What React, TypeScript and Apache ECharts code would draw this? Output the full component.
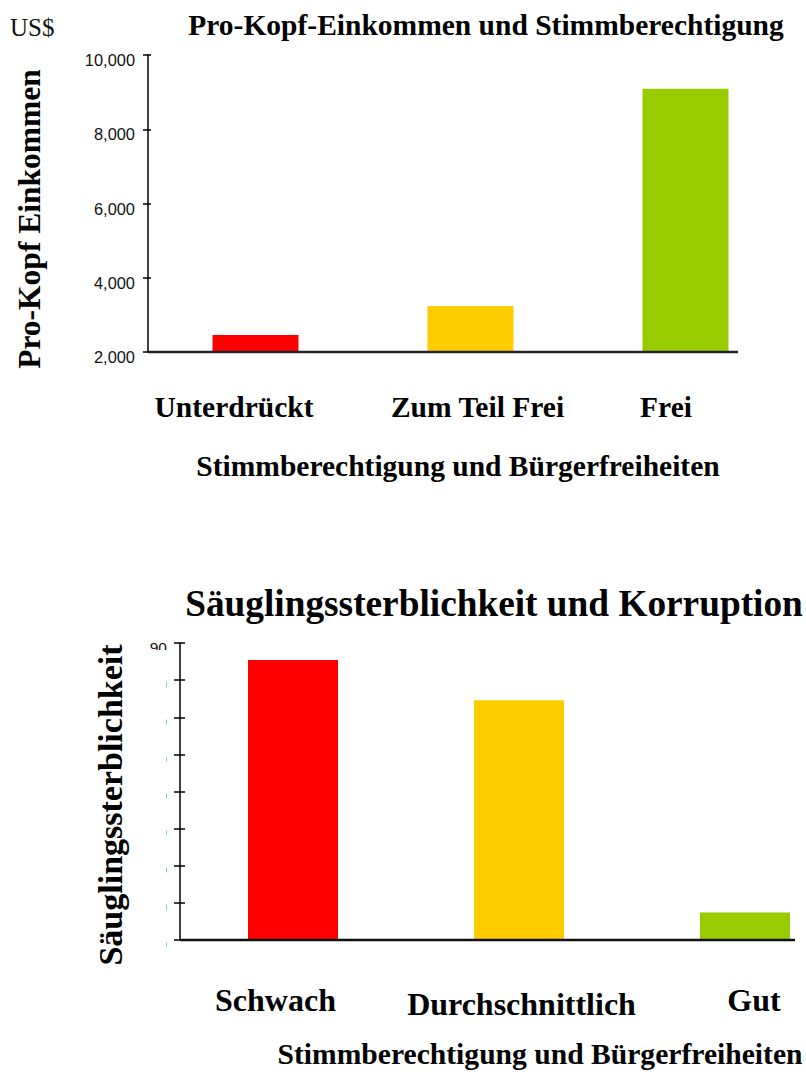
import React, { useEffect, useRef } from "react";
import * as echarts from "echarts";

const incomeCategories = ["Unterdrückt", "Zum Teil Frei", "Frei"];
const incomeValues = [2460, 3240, 9090];
const incomeColors = ["#ff0000", "#ffcc00", "#99cc00"];
const incomeLabelPadding = [
  [0, 43, 0, 0],
  [0, 0, 0, 14],
  [0, 39, 0, 0],
];

const mortalityCategories = ["Schwach", "Durchschnittlich", "Gut"];
const mortalityValues = [85.4, 74.6, 17.4];
const mortalityColors = ["#ff0000", "#ffcc00", "#99cc00"];
const mortalityLabelPadding = [
  [0, 35, 0, 0],
  [4, 0, 0, 5],
  [0, 0, 0, 18],
];

const SERIF = '"Liberation Serif", "Times New Roman", serif';
const SANS = '"Liberation Sans", Arial, sans-serif';

export default function App() {
  const ref = useRef<HTMLDivElement>(null);
  useEffect(() => {
    if (!ref.current) return;
    const chart = echarts.init(ref.current, undefined, { renderer: "svg" });
    const option: any = {
      animation: false,
      backgroundColor: "#ffffff",
      grid: [
        { left: 148, top: 55, width: 645, height: 297 },
        { left: 180, top: 643, width: 678, height: 297 },
      ],
      xAxis: [
        {
          type: "category",
          gridIndex: 0,
          data: incomeCategories.map((c, i) => ({
            value: c,
            textStyle: { padding: incomeLabelPadding[i] },
          })),
          axisLine: { show: false },
          axisTick: { show: false },
          axisLabel: {
            margin: 40,
            fontFamily: SERIF,
            fontWeight: "bold",
            fontSize: 29.5,
            color: "#000",
            interval: 0,
          },
        },
        {
          type: "category",
          gridIndex: 1,
          data: mortalityCategories.map((c, i) => ({
            value: c,
            textStyle: { padding: mortalityLabelPadding[i] },
          })),
          axisLine: { show: false },
          axisTick: { show: false },
          axisLabel: {
            margin: 44,
            fontFamily: SERIF,
            fontWeight: "bold",
            fontSize: 32,
            color: "#000",
            interval: 0,
          },
        },
      ],
      yAxis: [
        {
          type: "value",
          gridIndex: 0,
          min: 2000,
          max: 10000,
          interval: 2000,
          splitLine: { show: false },
          axisLine: { show: true, lineStyle: { color: "#000", width: 1.5 } },
          axisTick: { show: true, inside: false, length: 5, lineStyle: { color: "#000", width: 1.5 } },
          axisLabel: {
            margin: 13,
            fontFamily: SANS,
            fontSize: 16.4,
            color: "#111",
            verticalAlign: "top",
            lineHeight: 10,
            formatter: (v: number) => v.toLocaleString("en-US"),
          },
        },
        {
          type: "value",
          gridIndex: 0,
          min: 2000,
          max: 10000,
          interval: 2000,
          position: "left",
          splitLine: { show: false },
          axisLine: { show: false },
          axisTick: { show: true, inside: true, length: 3, lineStyle: { color: "#000", width: 1.5 } },
          axisLabel: { show: false },
        },
        {
          type: "value",
          gridIndex: 1,
          min: 10,
          max: 90,
          interval: 10,
          splitLine: { show: false },
          axisLine: { show: true, lineStyle: { color: "#000", width: 1.5 } },
          axisTick: { show: true, inside: false, length: 6, lineStyle: { color: "#000", width: 1.5 } },
          axisLabel: {
            margin: 13,
            fontFamily: SANS,
            fontSize: 15.5,
            color: "#111",
            verticalAlign: "top",
            lineHeight: 8,
          },
        },
        {
          type: "value",
          gridIndex: 1,
          min: 10,
          max: 90,
          interval: 10,
          position: "left",
          splitLine: { show: false },
          axisLine: { show: false },
          axisTick: { show: true, inside: true, length: 5, lineStyle: { color: "#000", width: 1.5 } },
          axisLabel: { show: false },
        },
      ],
      series: [
        {
          type: "bar",
          xAxisIndex: 0,
          yAxisIndex: 0,
          barWidth: 86,
          data: incomeValues.map((v, i) => ({ value: v, itemStyle: { color: incomeColors[i] } })),
        },
        {
          type: "bar",
          xAxisIndex: 1,
          yAxisIndex: 2,
          barWidth: 90,
          data: mortalityValues.map((v, i) => ({ value: v, itemStyle: { color: mortalityColors[i] } })),
        },
      ],
      graphic: [
        {
          type: "line",
          z: 50,
          shape: { x1: 148, y1: 352, x2: 738, y2: 352 },
          style: { stroke: "#222", lineWidth: 2.5 },
        },
        {
          type: "line",
          z: 50,
          shape: { x1: 180, y1: 940, x2: 795, y2: 940 },
          style: { stroke: "#111", lineWidth: 2.5 },
        },
        {
          type: "rect",
          z: 100,
          shape: { x: 138, y: 650, width: 28, height: 320 },
          style: { fill: "#ffffff" },
        },
        {
          type: "text",
          z: 101,
          x: 10,
          y: 27,
          style: { text: "US$", font: `25px ${SERIF}`, fill: "#111", textAlign: "left", textVerticalAlign: "middle" },
        },
        {
          type: "text",
          z: 101,
          x: 486,
          y: 25,
          style: {
            text: "Pro-Kopf-Einkommen und Stimmberechtigung",
            font: `bold 29.5px ${SERIF}`,
            fill: "#000",
            textAlign: "center",
            textVerticalAlign: "middle",
          },
        },
        {
          type: "text",
          z: 101,
          x: 458,
          y: 466,
          style: {
            text: "Stimmberechtigung und Bürgerfreiheiten",
            font: `bold 29.5px ${SERIF}`,
            fill: "#000",
            textAlign: "center",
            textVerticalAlign: "middle",
          },
        },
        {
          type: "text",
          z: 101,
          x: 29,
          y: 219,
          rotation: Math.PI / 2,
          style: {
            text: "Pro-Kopf Einkommen",
            font: `bold 31.5px ${SERIF}`,
            fill: "#000",
            textAlign: "center",
            textVerticalAlign: "middle",
          },
        },
        {
          type: "text",
          z: 101,
          x: 494,
          y: 603,
          style: {
            text: "Säuglingssterblichkeit und Korruption",
            font: `bold 37.3px ${SERIF}`,
            fill: "#000",
            textAlign: "center",
            textVerticalAlign: "middle",
          },
        },
        {
          type: "text",
          z: 101,
          x: 110,
          y: 805,
          rotation: Math.PI / 2,
          style: {
            text: "Säuglingssterblichkeit",
            font: `bold 34px ${SERIF}`,
            fill: "#000",
            textAlign: "center",
            textVerticalAlign: "middle",
          },
        },
        {
          type: "text",
          z: 101,
          x: 540,
          y: 1054,
          style: {
            text: "Stimmberechtigung und Bürgerfreiheiten",
            font: `bold 29.6px ${SERIF}`,
            fill: "#000",
            textAlign: "center",
            textVerticalAlign: "middle",
          },
        },
      ],
    };
    chart.setOption(option);
    return () => chart.dispose();
  }, []);
  return (
    <div
      style={{ position: "absolute", left: 0, top: 0, width: 806, height: 1072, overflow: "hidden", background: "#fff" }}
    >
      <div ref={ref} style={{ width: 900, height: 1072 }} />
    </div>
  );
}
